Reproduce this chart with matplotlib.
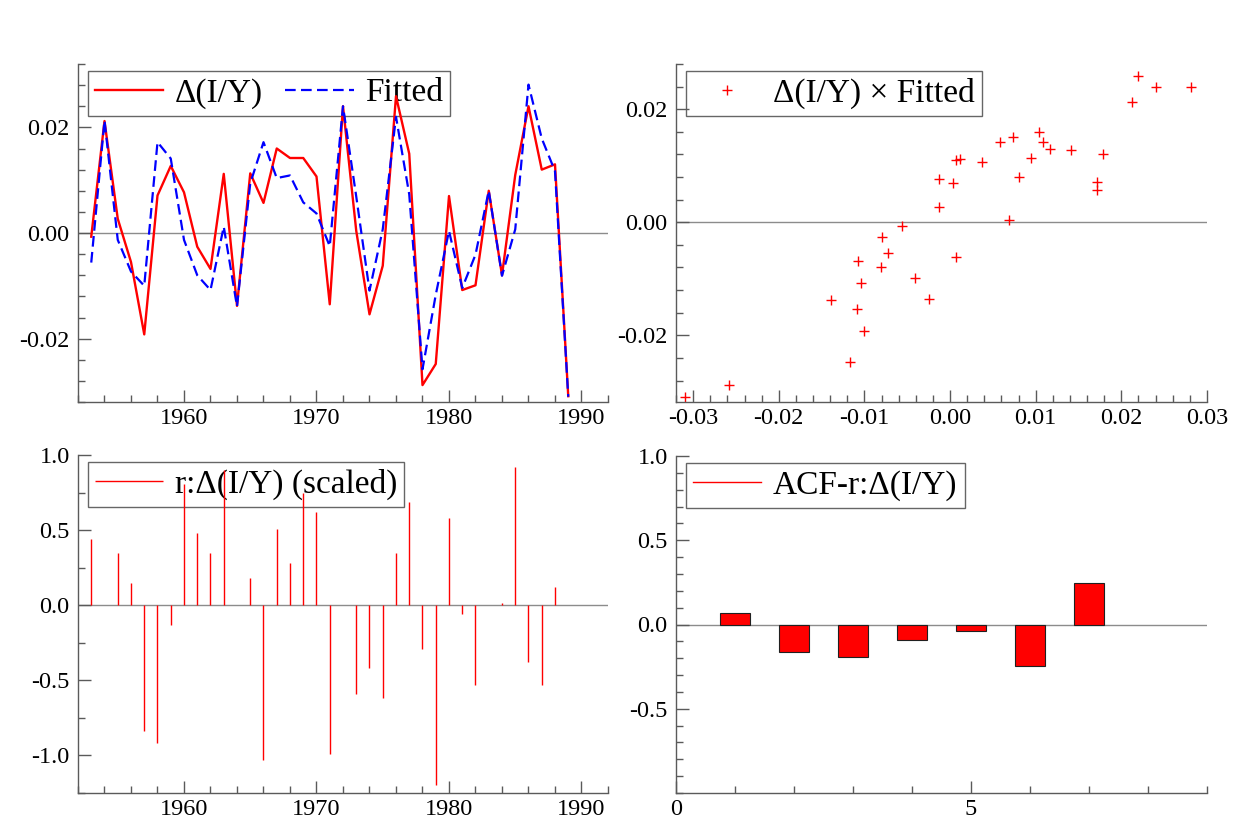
import numpy as np
import matplotlib
matplotlib.use("Agg")
import matplotlib.pyplot as plt
from matplotlib.ticker import MultipleLocator, FixedLocator, FormatStrFormatter
from matplotlib.legend_handler import HandlerLine2D

plt.rcParams['font.family'] = ['Liberation Serif', 'DejaVu Serif']
plt.rcParams['axes.unicode_minus'] = False

years = np.arange(1953, 1990)
actual = [-0.0007, 0.0212, 0.0027, -0.0055, -0.0192, 0.0071, 0.0127, 0.0077, -0.0026, -0.0068,
          0.0112, -0.0138, 0.0113, 0.0057, 0.0160, 0.0142, 0.0142, 0.0107, -0.0135, 0.0240,
          0.0004, -0.0154, -0.0062, 0.0259, 0.0150, -0.0288, -0.0248, 0.0070, -0.0108, -0.0099,
          0.0080, -0.0080, 0.0110, 0.0240, 0.0120, 0.0130, -0.0309]
fitted = [-0.0056, 0.0213, -0.0013, -0.0073, -0.0100, 0.0172, 0.0141, -0.0013, -0.0080, -0.0108,
          0.0012, -0.0139, 0.0094, 0.0172, 0.0104, 0.0109, 0.0058, 0.0037, -0.0025, 0.0240,
          0.0069, -0.0109, 0.0007, 0.0220, 0.0073, -0.0258, -0.0117, 0.0004, -0.0104, -0.0041,
          0.0080, -0.0081, 0.0007, 0.0281, 0.0179, 0.0117, -0.0310]
resid_scaled = [0.44, 0.0, 0.35, 0.15, -0.84, -0.92, -0.13, 0.81, 0.48, 0.35,
                0.90, 0.004, 0.18, -1.03, 0.51, 0.28, 0.75, 0.62, -0.99, 0.004,
                -0.59, -0.42, -0.62, 0.35, 0.69, -0.29, -1.20, 0.58, -0.06, -0.53,
                0.0, 0.013, 0.92, -0.38, -0.53, 0.12, 0.0]
acf_lags = [1, 2, 3, 4, 5, 6, 7]
acf_vals = [0.071, -0.166, -0.192, -0.091, -0.036, -0.249, 0.249]

W, H = 1254, 839
fig = plt.figure(figsize=(W / 100, H / 100), dpi=100)

def px_axes(l, t, r, b):
    return fig.add_axes([l / W, 1 - b / H, (r - l) / W, (b - t) / H])

SPINE = '#5a5a5a'
TICKFS = 17.5
LEGFS = 24

def style(ax):
    for s in ('top', 'right'):
        ax.spines[s].set_visible(False)
    for s in ('left', 'bottom'):
        ax.spines[s].set_color(SPINE)
        ax.spines[s].set_linewidth(1.0)
    ax.tick_params(which='both', direction='in', color=SPINE, width=1.0, labelsize=TICKFS)
    ax.tick_params(which='major', length=9)
    ax.tick_params(which='minor', length=5)
    ax.tick_params(axis='y', which='both', pad=6)
    ax.tick_params(axis='x', which='both', pad=4)
    ax.axhline(0, color='#8c8c8c', lw=1.0, zorder=0)

class HandlerMarkerRight(HandlerLine2D):
    def get_xdata(self, legend, xdescent, ydescent, width, height, fontsize):
        xdata = np.array([-xdescent, -xdescent + width])
        xm = np.array([-xdescent + 0.78 * width])
        return xdata, xm

def legend(ax, **kw):
    lg = ax.legend(loc='upper left', bbox_to_anchor=(0.019, 0.98), borderaxespad=0,
                   fontsize=LEGFS, frameon=True, fancybox=False, borderpad=0.21,
                   handlelength=2.05, handletextpad=0.35, **kw)
    fr = lg.get_frame()
    fr.set_edgecolor('#404040')
    fr.set_linewidth(1.0)
    lg.set_zorder(0.5)
    return lg

# Top-left: time series
ax1 = px_axes(78, 64, 608, 402)
ax1.plot(years, actual, color='#ff0000', lw=1.7, label='\u0394(I/Y)', zorder=2)
ax1.plot(years, fitted, color='#0000ff', lw=1.6, linestyle=(0, (4.8, 2.4)), label='Fitted', zorder=3)
ax1.set_xlim(1952, 1992)
ax1.set_ylim(-0.032, 0.032)
ax1.xaxis.set_major_locator(FixedLocator([1960, 1970, 1980, 1990]))
ax1.xaxis.set_minor_locator(MultipleLocator(2))
ax1.yaxis.set_major_locator(MultipleLocator(0.02))
ax1.yaxis.set_minor_locator(MultipleLocator(0.004))
ax1.yaxis.set_major_formatter(FormatStrFormatter('%.2f'))
style(ax1)
legend(ax1, ncol=2, columnspacing=0.66)

# Top-right: scatter
ax2 = px_axes(676, 64, 1207, 402)
sc_line, = ax2.plot(fitted, actual, linestyle='none', marker='+', color='#ff0000', ms=7, mew=1.0,
                    label='\u0394(I/Y) \u00d7 Fitted', zorder=2)
ax2.set_xlim(-0.032, 0.030)
ax2.set_ylim(-0.0318, 0.028)
ax2.xaxis.set_major_locator(MultipleLocator(0.01))
ax2.xaxis.set_minor_locator(MultipleLocator(0.002))
ax2.xaxis.set_major_formatter(FormatStrFormatter('%.2f'))
ax2.yaxis.set_major_locator(MultipleLocator(0.02))
ax2.yaxis.set_minor_locator(MultipleLocator(0.004))
ax2.yaxis.set_major_formatter(FormatStrFormatter('%.2f'))
style(ax2)
legend(ax2, numpoints=1, handler_map={sc_line: HandlerMarkerRight(numpoints=1)})

# Bottom-left: scaled residuals
ax3 = px_axes(78, 455, 608, 793)
ax3.vlines(years, 0, resid_scaled, color='#ff0000', lw=1.0, label='r:\u0394(I/Y) (scaled)', zorder=2)
ax3.set_xlim(1952, 1992)
ax3.set_ylim(-1.25, 1.0)
ax3.xaxis.set_major_locator(FixedLocator([1960, 1970, 1980, 1990]))
ax3.xaxis.set_minor_locator(MultipleLocator(2))
ax3.yaxis.set_major_locator(MultipleLocator(0.5))
ax3.yaxis.set_minor_locator(MultipleLocator(0.25))
ax3.yaxis.set_major_formatter(FormatStrFormatter('%.1f'))
style(ax3)
legend(ax3)

# Bottom-right: ACF
ax4 = px_axes(676, 456, 1207, 793)
ax4.bar(acf_lags, acf_vals, width=0.5, color='#ff0000', edgecolor='#202020', lw=0.8, zorder=2)
ax4.plot([], [], color='#ff0000', lw=1.0, label='ACF-r:\u0394(I/Y)')
ax4.set_xlim(0, 9)
ax4.set_ylim(-1.0, 1.0)
ax4.xaxis.set_major_locator(FixedLocator([0, 5]))
ax4.xaxis.set_minor_locator(MultipleLocator(1))
ax4.yaxis.set_major_locator(FixedLocator([-0.5, 0.0, 0.5, 1.0]))
ax4.yaxis.set_minor_locator(MultipleLocator(0.1))
ax4.yaxis.set_major_formatter(FormatStrFormatter('%.1f'))
style(ax4)
legend(ax4)

fig.savefig('out.png', dpi=100)
